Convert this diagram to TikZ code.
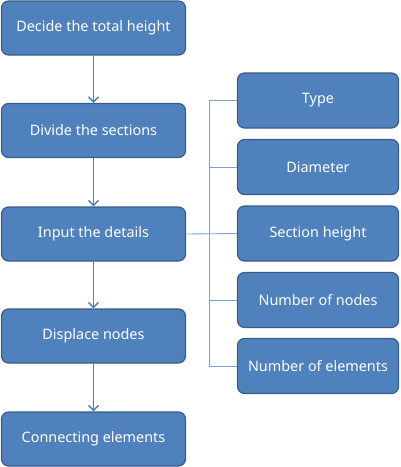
\documentclass[tikz,border=0pt]{standalone}
\usepackage{fontspec}
\setmainfont{Noto Sans}
\usetikzlibrary{arrows.meta}
\definecolor{boxfill}{HTML}{4F81BD}
\definecolor{boxline}{HTML}{385D8A}
\definecolor{arrowcol}{HTML}{4A7EBB}
\definecolor{linkcol}{HTML}{7FA3D1}
\tikzset{
  box/.style={draw=boxline, fill=boxfill, line width=1.2pt, rounded corners=7pt,
    text=white, font=\fontsize{14.4}{17}\selectfont, inner sep=0pt, anchor=center},
  leftbox/.style={box, minimum width=184pt, minimum height=54pt},
  rightbox/.style={box, minimum width=161pt, minimum height=55pt},
  flow/.style={draw=arrowcol, line width=1.4pt, -{Straight Barb[length=5pt,width=10pt,line width=1.4pt]}},
  link/.style={draw=linkcol, line width=0.9pt}
}
\begin{document}
\begin{tikzpicture}[x=1pt,y=-1pt]
\useasboundingbox (0,0) rectangle (400,467);
\node[leftbox] (a) at (93.5,28) {Decide the total height};
\node[leftbox] (b) at (93.5,130.5) {Divide the sections};
\node[leftbox] (c) at (93.5,234) {Input the details};
\node[leftbox] (d) at (93.5,336) {Displace nodes};
\node[leftbox] (e) at (93.5,439) {Connecting elements};
\node[rightbox] (t) at (318,100.5) {Type};
\node[rightbox] (di) at (318,167) {Diameter};
\node[rightbox] (s) at (318,233.5) {Section height};
\node[rightbox] (n) at (318,300) {Number of nodes};
\node[rightbox] (ne) at (318,366) {Number of elements};
\coordinate (top) at (209,100.5);
\coordinate (bot) at (209,366);
\draw[flow] (a) -- (b);
\draw[flow] (b) -- (c);
\draw[flow] (c) -- (d);
\draw[flow] (d) -- (e);
\draw[link] (t.west) -- (top) -- (bot) -- (ne.west);
\draw[link] (c.east) -- (s.west);
\draw[link] (di.west) -- (di.west -| top);
\draw[link] (n.west) -- (n.west -| top);
\end{tikzpicture}
\end{document}
